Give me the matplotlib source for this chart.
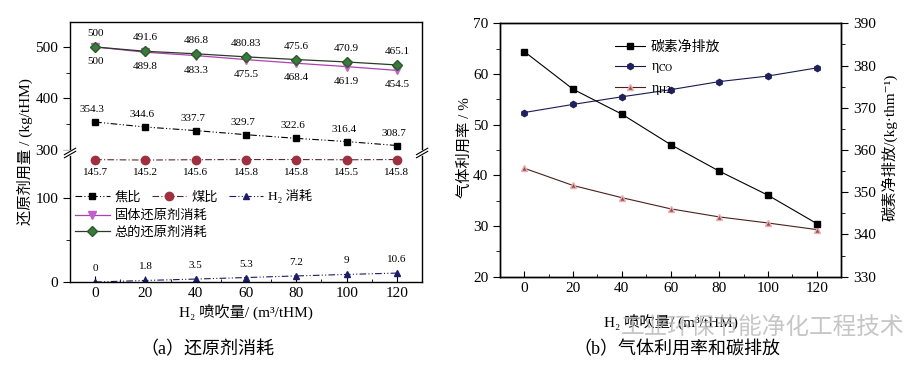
import matplotlib.pyplot as plt
import numpy as np

plt.rcParams['font.family'] = ['Liberation Serif', 'Noto Sans CJK SC', 'DejaVu Serif']
plt.rcParams['mathtext.fontset'] = 'stix'
plt.rcParams['axes.linewidth'] = 1.0

# H2 injection rate (m3/tHM)
h2_rate = [0, 20, 40, 60, 80, 100, 120]

# (a) reductant consumption, kg/tHM
coke = [354.3, 344.6, 337.7, 329.7, 322.6, 316.4, 308.7]
coal = [145.7, 145.2, 145.6, 145.8, 145.8, 145.5, 145.8]
h2_use = [0, 1.8, 3.5, 5.3, 7.2, 9, 10.6]
solid = [500, 489.8, 483.3, 475.5, 468.4, 461.9, 454.5]
total = [500, 491.6, 486.8, 480.83, 475.6, 470.9, 465.1]

# (b) gas utilisation (%) and net carbon emission (kg/thm)
carbon = [383.3, 374.4, 368.5, 361.3, 355.0, 349.3, 342.6]
eta_co = [52.4, 54.0, 55.5, 56.9, 58.5, 59.6, 61.2]
eta_h2 = [41.4, 38.0, 35.6, 33.4, 31.8, 30.6, 29.3]

fig = plt.figure(figsize=(9.24, 3.69), dpi=100)

# ---------- (a) broken y axis ----------
ax_top = fig.add_axes([0.0758, 0.5854, 0.381, 0.355])
ax_bot = fig.add_axes([0.0758, 0.2358, 0.381, 0.3496])

dd = (0, (6, 2, 1, 2, 1, 2))   # dash-dot-dot
dsh = (0, (6, 2, 1, 2))        # dash-dot

for ax in (ax_top, ax_bot):
    ax.plot(h2_rate, coke, color='black', ls=dd, lw=0.8, marker='s', ms=5, label='焦比')
    ax.plot(h2_rate, coal, color='#5a2a2a', ls=dsh, lw=0.8, marker='o', ms=6,
            mfc='#9e3040', mec='#9e3040', label='煤比')
    ax.plot(h2_rate, h2_use, color='#1a1a60', ls=dd, lw=0.8, marker='^', ms=5,
            mfc='#1c1c6a', mec='#1c1c6a', label='H₂ 消耗')
    ax.plot(h2_rate, solid, color='#b040b0', ls='-', lw=0.9, marker='v', ms=6,
            mfc='#c060c8', mec='#c060c8', label='固体还原剂消耗')
    ax.plot(h2_rate, total, color='#2a3a2a', ls='-', lw=0.9, marker='D', ms=5,
            mfc='#3a7a3a', mec='#2a5a2a', label='总的还原剂消耗')
    ax.set_xlim(-10, 130)

ax_top.set_ylim(294.2, 548.5)
ax_bot.set_ylim(0, 153.6)
ax_top.spines['bottom'].set_visible(False)
ax_bot.spines['top'].set_visible(False)
ax_top.set_xticks([])
ax_top.set_yticks([300, 400, 500])
ax_top.set_yticks([350, 450], minor=True)
ax_bot.set_yticks([0, 100])
ax_bot.set_yticks([50], minor=True)
ax_bot.set_xticks(h2_rate)
ax_bot.set_xticks([10, 30, 50, 70, 90, 110], minor=True)
for ax in (ax_top, ax_bot):
    ax.tick_params(axis='y', which='both', direction='out', labelsize=11)
    ax.tick_params(axis='y', which='major', length=5)
    ax.tick_params(axis='y', which='minor', length=3)
    ax.tick_params(axis='x', which='both', direction='in', labelsize=11)
    ax.tick_params(axis='x', which='major', length=4)
    ax.tick_params(axis='x', which='minor', length=2.5)

# break marks on both spines
for xb in (0.0, 1.0):
    ax_bot.plot([xb - 0.012, xb + 0.012], [1.0, 1.0], transform=ax_bot.transAxes,
                color='white', lw=4, clip_on=False, zorder=5)
    for dy in (-0.012, 0.012):
        ax_bot.plot([xb - 0.016, xb + 0.016], [1.0 + dy - 0.025, 1.0 + dy + 0.025],
                    transform=ax_bot.transAxes, color='black', lw=0.8,
                    clip_on=False, zorder=6)

fs_ann = 8
for x, v in zip(h2_rate, total):
    ax_top.annotate(f'{v:g}', (x, v), xytext=(0, 9), textcoords='offset pixels',
                    ha='center', va='bottom', fontsize=fs_ann)
for x, v in zip(h2_rate, solid):
    ax_top.annotate(f'{v:g}', (x, v), xytext=(0, -10), textcoords='offset pixels',
                    ha='center', va='top', fontsize=fs_ann)
for x, v in zip(h2_rate, coke):
    ax_top.annotate(f'{v:g}', (x, v), xytext=(-3, 8), textcoords='offset pixels',
                    ha='center', va='bottom', fontsize=fs_ann)
for x, v in zip(h2_rate, coal):
    ax_bot.annotate(f'{v:g}', (x, v), xytext=(0, -8), textcoords='offset pixels',
                    ha='center', va='top', fontsize=fs_ann)
for x, v in zip(h2_rate, h2_use):
    ax_bot.annotate(f'{v:g}', (x, v), xytext=(0, 9), textcoords='offset pixels',
                    ha='center', va='bottom', fontsize=fs_ann)

hs, ls = ax_bot.get_legend_handles_labels()
leg1 = ax_bot.legend(hs[:3], ls[:3], ncol=3, loc='upper left',
                     bbox_to_anchor=(0.0, 0.76), frameon=False, fontsize=9.5,
                     handlelength=2.6, handletextpad=0.4, columnspacing=0.8,
                     borderaxespad=0.2, borderpad=0.2)
ax_bot.add_artist(leg1)
ax_bot.legend(hs[3:], ls[3:], loc='upper left', bbox_to_anchor=(0.0, 0.6),
              frameon=False, fontsize=9.5, handlelength=2.6, handletextpad=0.4,
              borderaxespad=0.2, borderpad=0.2, labelspacing=0.3)

ax_bot.set_xlabel('H₂ 喷吹量/ (m³/tHM)', fontsize=11, labelpad=3)
fig.text(0.027, 0.588, '还原剂用量 / (kg/tHM)', rotation=90, ha='center',
         va='center', fontsize=11)
fig.text(0.225, 0.052, '（a）还原剂消耗', ha='center', va='center', fontsize=13)

# ---------- (b) gas utilisation and carbon emission ----------
axb = fig.add_axes([0.5411, 0.2501, 0.3691, 0.6867])
axr = axb.twinx()
l1, = axr.plot(h2_rate, carbon, color='black', lw=0.8, marker='s', ms=4.5,
               label='碳素净排放')
l2, = axb.plot(h2_rate, eta_co, color='#1a1a50', lw=0.8, marker='h', ms=4.5,
               mfc='#20205e', mec='#20205e', label='η$_{\\mathrm{CO}}$')
l3, = axb.plot(h2_rate, eta_h2, color='#4a2020', lw=0.8, marker='^', ms=5,
               mfc='#a04848', mec='#e8b0b0', label='η$_{\\mathrm{H2}}$')
axb.set_xlim(-10, 130)
axb.set_ylim(20, 70)
axr.set_ylim(330, 390)
axb.set_xticks(h2_rate)
axb.set_xticks([10, 30, 50, 70, 90, 110], minor=True)
axb.set_yticks(np.arange(20, 71, 10))
axb.set_yticks(np.arange(25, 70, 10), minor=True)
axr.set_yticks(np.arange(330, 391, 10))
axr.set_yticks(np.arange(335, 390, 10), minor=True)
axb.tick_params(axis='y', which='both', direction='out', labelsize=11)
axr.tick_params(axis='y', which='both', direction='out', labelsize=11)
axb.tick_params(axis='x', which='both', direction='in', labelsize=11)
for ax in (axb, axr):
    ax.tick_params(which='major', length=5)
    ax.tick_params(which='minor', length=3)
axb.tick_params(axis='x', which='major', length=4)
axb.tick_params(axis='x', which='minor', length=2.5)

axr.legend([l1, l2, l3], [l1.get_label(), l2.get_label(), l3.get_label()],
           loc='upper left', bbox_to_anchor=(0.3, 0.98), frameon=False,
           fontsize=10, handlelength=2.2, handletextpad=0.4, labelspacing=0.45)

axb.set_xlabel('H₂ 喷吹量/ (m³/tHM)', fontsize=11, labelpad=14)
fig.text(0.503, 0.6, '气体利用率 / %', rotation=90, ha='center', va='center',
         fontsize=11)
fig.text(0.962, 0.6, '碳素净排放/(kg·thm⁻¹)', rotation=90, ha='center',
         va='center', fontsize=11)
fig.text(0.733, 0.052, '（b）气体利用率和碳排放', ha='center', va='center',
         fontsize=13)

# watermark
fig.text(0.672, 0.112, '工业环保节能净化工程技术', ha='left', va='center',
         fontsize=17, color='#b8b8b8', alpha=0.8)

fig.savefig('out.png', dpi=100)
